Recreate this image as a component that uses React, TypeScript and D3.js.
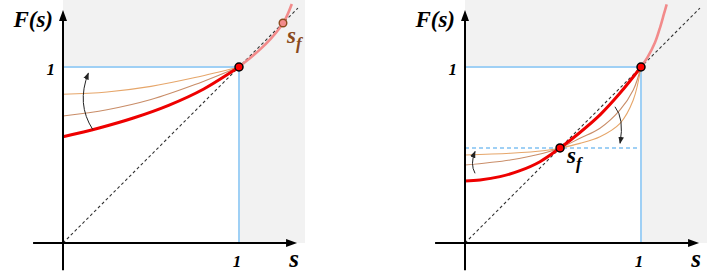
import React from "react";
import * as d3 from "d3";

type P = [number, number];

// ---- data (s, F(s)) ----
const leftRed: P[] = [[0, 0.604], [0.2, 0.652], [0.4, 0.71], [0.6, 0.782], [0.8, 0.875], [1, 1]];
const leftSalmon: P[] = [[1, 1], [1.06, 1.048], [1.12, 1.1], [1.18, 1.16], [1.23, 1.22], [1.265, 1.275], [1.3, 1.358]];
const leftOrangeUpper: P[] = [[0, 0.845], [0.25, 0.858], [0.5, 0.89], [0.75, 0.94], [1, 1]];
const leftOrangeMiddle: P[] = [[0, 0.722], [0.25, 0.757], [0.5, 0.815], [0.75, 0.9], [1, 1]];
const leftFixedPoint = 1.25;

const rightRed: P[] = [[0, 0.352], [0.085, 0.358], [0.199, 0.377], [0.3125, 0.411], [0.426, 0.462], [0.54, 0.54], [0.653, 0.628], [0.767, 0.728], [0.881, 0.852], [1, 1]];
const rightSalmon: P[] = [[1, 1], [1.04, 1.06], [1.08, 1.14], [1.11, 1.23], [1.13, 1.3], [1.146, 1.356]];
const rightOrangeUpper: P[] = [[0, 0.5], [0.256, 0.51], [0.445, 0.524], [0.54, 0.54], [0.653, 0.566], [0.767, 0.604], [0.881, 0.68], [0.956, 0.8125], [1, 1]];
const rightOrangeMiddle: P[] = [[0, 0.443], [0.256, 0.472], [0.445, 0.51], [0.54, 0.54], [0.653, 0.595], [0.767, 0.652], [0.881, 0.756], [0.956, 0.869], [1, 1]];
const rightFixedPoint = 0.54;

// curved annotation arrows: [start, control, end]
const leftArrows: P[][] = [[[0.169, 0.645], [0.075, 0.79], [0.144, 0.965]]];
const rightArrows: P[][] = [
  [[0.057, 0.396], [0.028, 0.448], [0.057, 0.52]],
  [[0.852, 0.774], [0.906, 0.708], [0.881, 0.567]],
];

const tickLabels = ["1"];
const axisLabelY = "F(s)";
const axisLabelX = "s";

const FONT = "'Liberation Serif', 'Times New Roman', 'DejaVu Serif', serif";
const UNIT = 176;
const OY = 243;

interface PanelProps {
  ox: number;
  red: P[];
  salmon: P[];
  upper: P[];
  middle: P[];
  fixed: number;
  arrows: P[][];
  right: boolean;
}

function Panel({ ox, red, salmon, upper, middle, fixed, arrows, right }: PanelProps) {
  const x = d3.scaleLinear().domain([0, 1]).range([ox, ox + UNIT]);
  const y = d3.scaleLinear().domain([0, 1]).range([OY, OY - UNIT]);
  const line = d3
    .line<P>()
    .x((d) => x(d[0]))
    .y((d) => y(d[1]))
    .curve(d3.curveCatmullRom.alpha(0.5));

  const grayRight = x(1.375);
  const arrowPath = (a: P[]) => {
    const p = d3.path();
    p.moveTo(x(a[0][0]), y(a[0][1]));
    p.quadraticCurveTo(x(a[1][0]), y(a[1][1]), x(a[2][0]), y(a[2][1]));
    return p.toString();
  };

  const xTip = x(1.33);
  const yTip = y(1.324);

  return (
    <g>
      {/* grey region outside unit square */}
      <rect x={x(0)} y={0} width={grayRight - x(0)} height={y(0)} fill="#f2f2f2" />
      <rect x={x(0)} y={y(1)} width={x(1) - x(0)} height={y(0) - y(1)} fill="#ffffff" />
      {/* blue guide lines */}
      <line x1={x(0)} x2={x(1)} y1={y(1)} y2={y(1)} stroke="#9fd0f5" strokeWidth={2} />
      <line x1={x(1)} x2={x(1)} y1={y(1)} y2={y(0)} stroke="#9fd0f5" strokeWidth={2} />
      {right && (
        <line x1={x(0)} x2={x(1)} y1={y(fixed)} y2={y(fixed)} stroke="#9fd0f5" strokeWidth={2} strokeDasharray="4,3" />
      )}
      {/* diagonal */}
      <line x1={x(0)} y1={y(0)} x2={x(1.335)} y2={y(1.335)} stroke="#333" strokeWidth={1.1} strokeDasharray="3,2.5" />
      {/* curves */}
      <path d={line(upper) || ""} fill="none" stroke="#e6a66a" strokeWidth={1.1} />
      <path d={line(middle) || ""} fill="none" stroke="#c98d68" strokeWidth={1.1} />
      <path d={line(salmon) || ""} fill="none" stroke="#f28b8b" strokeWidth={2.6} />
      <path d={line(red) || ""} fill="none" stroke="#ee0000" strokeWidth={3} />
      {/* annotation arrows */}
      {arrows.map((a, i) => (
        <path key={i} d={arrowPath(a)} fill="none" stroke="#222" strokeWidth={1} markerEnd="url(#arrowHead)" />
      ))}
      {/* axes */}
      <line x1={x(-0.17)} x2={xTip - 6} y1={y(0)} y2={y(0)} stroke="#000" strokeWidth={2} />
      <path d={`M${xTip},${y(0)} L${xTip - 11},${y(0) - 4} L${xTip - 11},${y(0) + 4} Z`} fill="#000" />
      <line x1={x(0)} x2={x(0)} y1={y(-0.155)} y2={yTip + 6} stroke="#000" strokeWidth={2} />
      <path d={`M${x(0)},${yTip} L${x(0) - 4},${yTip + 11} L${x(0) + 4},${yTip + 11} Z`} fill="#000" />
      {/* dots */}
      <circle cx={x(1)} cy={y(1)} r={4} fill="#ff0000" stroke="#000" strokeWidth={1.5} />
      {right ? (
        <circle cx={x(fixed)} cy={y(fixed)} r={4} fill="#ff0000" stroke="#000" strokeWidth={1.5} />
      ) : (
        <circle cx={x(fixed)} cy={y(fixed)} r={3.8} fill="#f28b8b" stroke="#8a4a1c" strokeWidth={1.4} />
      )}
      {/* labels */}
      <g fontFamily={FONT} fontWeight="bold" fontStyle="italic">
        <text x={x(0) - 10} y={27} textAnchor="end" fontSize={23}>{axisLabelY}</text>
        <text x={x(0) - 8} y={y(1) + 8} textAnchor="end" fontSize={17}>{tickLabels[0]}</text>
        <text x={x(1) - 2} y={267} textAnchor="middle" fontSize={17}>{tickLabels[0]}</text>
        <text x={x(0) + 231} y={267} textAnchor="middle" fontSize={25}>{axisLabelX}</text>
        {right ? (
          <text x={x(fixed) + 7} y={y(fixed) + 15} fontSize={23} fill="#000">
            s<tspan dy={6} fontSize={17}>f</tspan>
          </text>
        ) : (
          <text x={x(fixed) + 4} y={y(fixed) + 20} fontSize={23} fill="#8a4a1c">
            s<tspan dy={6} fontSize={17}>f</tspan>
          </text>
        )}
      </g>
    </g>
  );
}

export default function App() {
  return (
    <svg width={708} height={275} style={{ position: "absolute", left: 0, top: 0, background: "#fff" }}>
      <defs>
        <marker id="arrowHead" viewBox="0 0 10 8" refX={9} refY={4} markerWidth={7} markerHeight={6} markerUnits="userSpaceOnUse" orient="auto">
          <path d="M0,0 L10,4 L0,8 Z" fill="#222" />
        </marker>
      </defs>
      <rect x={0} y={0} width={708} height={275} fill="#fff" />
      <Panel ox={63} red={leftRed} salmon={leftSalmon} upper={leftOrangeUpper} middle={leftOrangeMiddle} fixed={leftFixedPoint} arrows={leftArrows} right={false} />
      <Panel ox={465} red={rightRed} salmon={rightSalmon} upper={rightOrangeUpper} middle={rightOrangeMiddle} fixed={rightFixedPoint} arrows={rightArrows} right={true} />
    </svg>
  );
}
